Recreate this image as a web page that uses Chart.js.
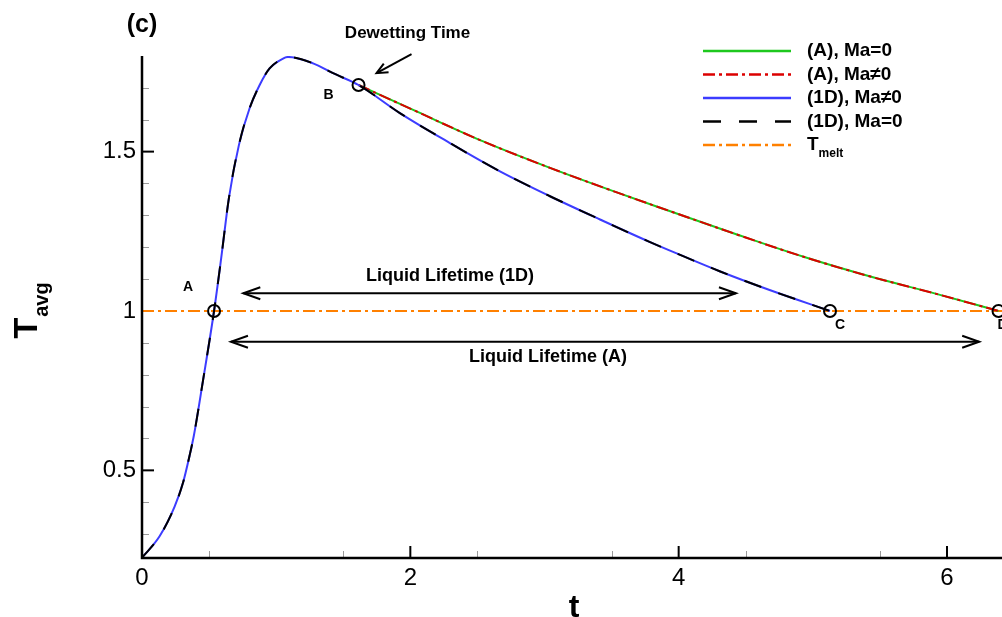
<!DOCTYPE html>
<html>
<head>
<meta charset="utf-8">
<title>T avg vs t</title>
<script src="https://cdn.jsdelivr.net/npm/chart.js@4.4.1/dist/chart.umd.min.js"></script>
<style>
  html, body { margin: 0; padding: 0; background: #fff; overflow: hidden; }
  canvas { display: block; }
</style>
</head>
<body>
<canvas id="tavg-chart" width="1002" height="617"></canvas>
<script>
'use strict';

// ******** DATA **************
// 1D model: heating pulse then cooling (Ma=0 and Ma≠0 lie on top of each other)
let time1D = [0, 0.131, 0.243, 0.305, 0.354, 0.387, 0.454, 0.537, 0.591, 0.648, 0.723, 0.802,
  0.877, 0.951, 1.051, 1.088, 1.275, 1.424, 1.614, 1.922, 2.295, 2.668, 3.041, 3.414,
  3.787, 4.011, 4.31, 4.683, 5.128];
let temp1D = [0.226, 0.293, 0.386, 0.46, 0.545, 0.61, 0.78, 1.0, 1.168, 1.355, 1.522, 1.636,
  1.709, 1.761, 1.792, 1.797, 1.777, 1.746, 1.709, 1.621, 1.527, 1.438, 1.36, 1.287,
  1.216, 1.176, 1.124, 1.065, 1.0];

// axisymmetric (A) model, from the dewetting time onwards
let timeA = [1.614, 2.046, 2.543, 3.041, 3.539, 3.937, 4.434, 4.931, 5.429, 5.927, 6.384];
let tempA = [1.709, 1.626, 1.532, 1.449, 1.372, 1.313, 1.24, 1.17, 1.108, 1.053, 1.0];

let meltTemp = 1;

// circled points A (melting), B (dewetting), C and D (solidification)
let markerNames = ['A', 'B', 'C', 'D'];
let markerTimes = [0.537, 1.614, 5.128, 6.384];
let markerTemps = [1, 1.709, 1, 1];

let xTicks = [0, 2, 4, 6];
let yTicks = [0.5, 1, 1.5];
let xRange = [0, 6.41];
let yRange = [0.225, 1.8];

// ******** STYLE **************
const FONT = "'Liberation Sans', Arial, Helvetica, sans-serif";
const GREEN = '#1ec81e';
const RED = '#dc0000';
const BLUE = '#3c3cff';
const ORANGE = '#ff8000';
const DASH = [18, 18];
const DASH_DOT = [12, 4, 3, 4];

function toPoints(xs, ys) {
  let pts = [];
  for (let i = 0; i < xs.length; i++) {
    pts.push({ x: xs[i], y: ys[i] });
  }
  return pts;
}

function curve(label, xs, ys, color, dash) {
  return {
    label: label,
    data: toPoints(xs, ys),
    borderColor: color,
    borderWidth: 2,
    borderDash: dash,
    pointRadius: 0,
    fill: false,
    cubicInterpolationMode: 'monotone'
  };
}

// first dataset is painted last (on top)
let markerSet = {
  label: 'points',
  type: 'scatter',
  data: toPoints(markerTimes, markerTemps),
  pointRadius: 6,
  pointBorderWidth: 2,
  pointBorderColor: '#000',
  pointBackgroundColor: 'rgba(0,0,0,0)',
  showLine: false,
  clip: false
};
let dashed1D = curve('(1D), Ma=0', time1D, temp1D, '#000', DASH);
let solid1D = curve('(1D), Ma≠0', time1D, temp1D, BLUE, []);
let dashDotA = curve('(A), Ma≠0', timeA, tempA, RED, DASH_DOT);
let solidA = curve('(A), Ma=0', timeA, tempA, GREEN, []);
let meltLine = curve('T_melt', xRange, [meltTemp, meltTemp], ORANGE, DASH_DOT);

let legendRows = [solidA, dashDotA, solid1D, dashed1D, meltLine];

// ******** HELPERS **************
function arrowHead(ctx, fromX, fromY, toX, toY, len, half) {
  let ang = Math.atan2(toY - fromY, toX - fromX);
  let c = Math.cos(ang);
  let s = Math.sin(ang);
  ctx.beginPath();
  ctx.moveTo(toX - len * c + half * s, toY - len * s - half * c);
  ctx.lineTo(toX, toY);
  ctx.lineTo(toX - len * c - half * s, toY - len * s + half * c);
  ctx.stroke();
}

function doubleArrow(ctx, x1, x2, y) {
  ctx.beginPath();
  ctx.moveTo(x1, y);
  ctx.lineTo(x2, y);
  ctx.stroke();
  arrowHead(ctx, x2, y, x1, y, 17, 6);
  arrowHead(ctx, x1, y, x2, y, 17, 6);
}

function boldText(ctx, text, x, y, size, align) {
  ctx.font = `bold ${size}px ${FONT}`;
  ctx.textAlign = align || 'center';
  ctx.textBaseline = 'middle';
  ctx.fillText(text, x, y);
}

// ******** PLUGIN: inward ticks, frame, notes and legend **************
const plotFrame = {
  id: 'plotFrame',
  beforeDatasetsDraw(chart) {
    const { ctx, chartArea: area, scales: { x, y } } = chart;
    ctx.save();
    ctx.setLineDash([]);
    // minor ticks
    ctx.strokeStyle = '#9a9a9a';
    ctx.lineWidth = 1;
    for (let v = 0.5; v < xRange[1]; v += 1) {
      let px = Math.round(x.getPixelForValue(v)) + 0.5;
      ctx.beginPath();
      ctx.moveTo(px, area.bottom);
      ctx.lineTo(px, area.bottom - 7);
      ctx.stroke();
    }
    for (let k = 3; k <= 17; k++) {
      if (k % 5 === 0) continue;
      let py = Math.round(y.getPixelForValue(k / 10)) + 0.5;
      ctx.beginPath();
      ctx.moveTo(area.left, py);
      ctx.lineTo(area.left + 7, py);
      ctx.stroke();
    }
    // major ticks
    ctx.strokeStyle = '#000';
    ctx.lineWidth = 2;
    xTicks.forEach(v => {
      let px = x.getPixelForValue(v);
      ctx.beginPath();
      ctx.moveTo(px, area.bottom);
      ctx.lineTo(px, area.bottom - 12);
      ctx.stroke();
    });
    yTicks.forEach(v => {
      let py = y.getPixelForValue(v);
      ctx.beginPath();
      ctx.moveTo(area.left, py);
      ctx.lineTo(area.left + 12, py);
      ctx.stroke();
    });
    ctx.restore();
  },
  afterDraw(chart) {
    const { ctx, chartArea: area, scales: { x, y } } = chart;
    ctx.save();
    ctx.setLineDash([]);
    ctx.fillStyle = '#000';
    ctx.strokeStyle = '#000';

    // axis lines (left and bottom only)
    ctx.lineWidth = 2.5;
    ctx.beginPath();
    ctx.moveTo(area.left, area.top);
    ctx.lineTo(area.left, area.bottom);
    ctx.lineTo(area.right, area.bottom);
    ctx.stroke();

    // point letters
    let letterOffsets = [[-26, -24], [-30, 10], [10, 14], [4, 14]];
    markerNames.forEach((name, i) => {
      let px = x.getPixelForValue(markerTimes[i]) + letterOffsets[i][0];
      let py = y.getPixelForValue(markerTemps[i]) + letterOffsets[i][1];
      boldText(ctx, name, px, py, 14);
    });

    // dewetting note
    boldText(ctx, 'Dewetting Time', x.getPixelForValue(1.979), y.getPixelForValue(1.872), 17);
    ctx.lineWidth = 2;
    let ax1 = x.getPixelForValue(2.009), ay1 = y.getPixelForValue(1.806);
    let ax2 = x.getPixelForValue(1.748), ay2 = y.getPixelForValue(1.746);
    ctx.beginPath();
    ctx.moveTo(ax1, ay1);
    ctx.lineTo(ax2, ay2);
    ctx.stroke();
    arrowHead(ctx, ax1, ay1, ax2, ay2, 11, 5);

    // liquid lifetimes
    doubleArrow(ctx, x.getPixelForValue(0.755), x.getPixelForValue(4.427), y.getPixelForValue(1.0555));
    boldText(ctx, 'Liquid Lifetime (1D)', x.getPixelForValue(2.296), y.getPixelForValue(1.111), 18);
    doubleArrow(ctx, x.getPixelForValue(0.663), x.getPixelForValue(6.24), y.getPixelForValue(0.9036));
    boldText(ctx, 'Liquid Lifetime (A)', x.getPixelForValue(3.026), y.getPixelForValue(0.856), 18);

    // panel tag
    boldText(ctx, '(c)', area.left, area.top - 31, 25);

    // axis titles
    ctx.font = `bold 32px ${FONT}`;
    ctx.textAlign = 'center';
    ctx.textBaseline = 'alphabetic';
    ctx.fillText('t', (area.left + area.right) / 2 + 2, 617);

    ctx.save();
    ctx.translate(37, (area.top + area.bottom) / 2 + 4);
    ctx.rotate(-Math.PI / 2);
    ctx.font = `bold 34px ${FONT}`;
    ctx.textAlign = 'left';
    let tw = ctx.measureText('T').width;
    ctx.font = `bold 20px ${FONT}`;
    let sw = ctx.measureText('avg').width;
    let startX = -(tw + sw) / 2;
    ctx.font = `bold 34px ${FONT}`;
    ctx.fillText('T', startX, 0);
    ctx.font = `bold 20px ${FONT}`;
    ctx.fillText('avg', startX + tw + 1, 11);
    ctx.restore();

    // legend
    let lx1 = 703, lx2 = 791, textX = 807, top = 51, gap = 23.5;
    legendRows.forEach((ds, i) => {
      let ly = top + i * gap;
      ctx.strokeStyle = ds.borderColor;
      ctx.lineWidth = 2.5;
      ctx.setLineDash(ds.borderDash);
      ctx.beginPath();
      ctx.moveTo(lx1, ly);
      ctx.lineTo(lx2, ly);
      ctx.stroke();
      ctx.setLineDash([]);
      if (ds.label === 'T_melt') {
        boldText(ctx, 'T', textX, ly, 19, 'left');
        let w = ctx.measureText('T').width;
        boldText(ctx, 'melt', textX + w, ly + 9, 12, 'left');
      } else {
        boldText(ctx, ds.label, textX, ly, 19, 'left');
      }
    });

    ctx.restore();
  }
};

// ******** CHART **************
let tickFont = { family: FONT, size: 24 };

new Chart(document.getElementById('tavg-chart'), {
  type: 'line',
  data: {
    datasets: [markerSet, dashed1D, solid1D, dashDotA, solidA, meltLine]
  },
  options: {
    responsive: false,
    animation: false,
    events: [],
    layout: { autoPadding: false, padding: { left: 0, right: 0, top: 56, bottom: 0 } },
    plugins: {
      legend: { display: false },
      tooltip: { enabled: false }
    },
    scales: {
      x: {
        type: 'linear',
        min: xRange[0],
        max: xRange[1],
        grid: { display: false, drawTicks: false },
        border: { display: false },
        afterBuildTicks: scale => { scale.ticks = xTicks.map(v => ({ value: v })); },
        afterFit: scale => {
          scale.height = 59;
          scale.paddingLeft = 0;
          scale.paddingRight = 0;
        },
        ticks: { color: '#000', font: tickFont, padding: 6, maxRotation: 0, callback: v => String(v) }
      },
      y: {
        type: 'linear',
        min: yRange[0],
        max: yRange[1],
        grid: { display: false, drawTicks: false },
        border: { display: false },
        afterBuildTicks: scale => { scale.ticks = yTicks.map(v => ({ value: v })); },
        afterFit: scale => {
          scale.width = 142;
          scale.paddingTop = 0;
          scale.paddingBottom = 0;
        },
        ticks: { color: '#000', font: tickFont, padding: 6, callback: v => String(v) }
      }
    }
  },
  plugins: [plotFrame]
});
</script>
</body>
</html>
